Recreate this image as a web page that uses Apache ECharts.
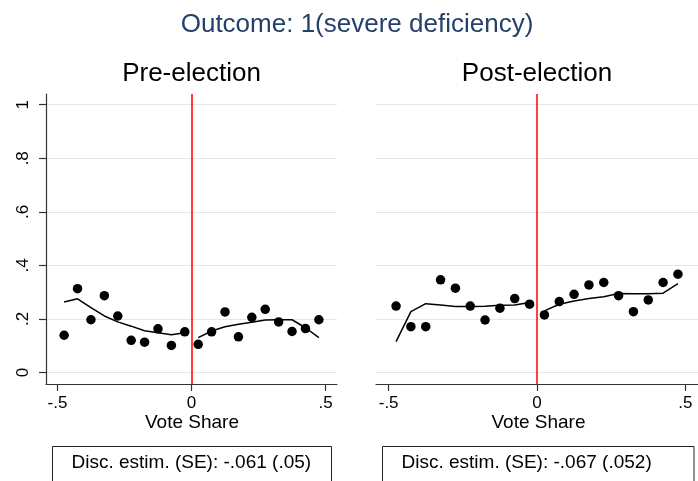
<!DOCTYPE html>
<html><head><meta charset="utf-8">
<script src="https://cdn.jsdelivr.net/npm/echarts@6/dist/echarts.min.js"></script>
<style>html,body{margin:0;padding:0;background:#fff}#c{width:698px;height:481px}</style>
</head><body><div id="c"></div>
<script>
// ---- data ----
const mainTitle = 'Outcome: 1(severe deficiency)';
const panelTitles = ['Pre-election', 'Post-election'];
const xAxisTitle = 'Vote Share';
const discNotes = ['Disc. estim. (SE): -.061 (.05)', 'Disc. estim. (SE): -.067 (.052)'];

const binCenters = [-0.475, -0.425, -0.375, -0.325, -0.275, -0.225, -0.175, -0.125, -0.075, -0.025,
                    0.025, 0.075, 0.125, 0.175, 0.225, 0.275, 0.325, 0.375, 0.425, 0.475];

const preMeans = [0.139, 0.313, 0.197, 0.287, 0.211, 0.120, 0.113, 0.163, 0.101, 0.152,
                  0.105, 0.152, 0.226, 0.133, 0.206, 0.236, 0.189, 0.153, 0.164, 0.197];
const preFitLeft  = [0.263, 0.275, 0.242, 0.211, 0.189, 0.173, 0.156, 0.148, 0.141, 0.148];
const preFitRight = [0.130, 0.155, 0.171, 0.180, 0.188, 0.196, 0.197, 0.197, 0.167, 0.130];

const postMeans = [0.248, 0.171, 0.171, 0.346, 0.315, 0.248, 0.196, 0.240, 0.276, 0.255,
                   0.215, 0.265, 0.292, 0.327, 0.336, 0.287, 0.227, 0.271, 0.336, 0.367];
const postFitLeft  = [0.115, 0.227, 0.257, 0.252, 0.246, 0.246, 0.247, 0.251, 0.252, 0.261];
const postFitRight = [0.230, 0.255, 0.267, 0.276, 0.283, 0.295, 0.294, 0.294, 0.296, 0.332];

const xTicks = [-0.5, 0, 0.5];
const xTickLabels = ['-.5', '0', '.5'];
const yTicks = [0, 0.2, 0.4, 0.6, 0.8, 1];
const yTickLabels = ['0', '.2', '.4', '.6', '.8', '1'];
const cutoff = 0;

// ---- build ----
const FONT = 'Liberation Sans, Arial, Helvetica, sans-serif';
const AX = '#333';
function lab(ticks, labels) {
  return v => { const i = ticks.findIndex(t => Math.abs(t - v) < 1e-9); return i >= 0 ? labels[i] : ''; };
}
function pairs(xs, ys) { return ys.map((y, i) => [xs[i], y]); }
const leftX = binCenters.slice(0, 10), rightX = binCenters.slice(10);

function xAxisCfg(g) {
  return {
    type: 'value', gridIndex: g, min: -0.5426, max: 0.5426,
    axisLine: { show: true, onZero: false, lineStyle: { color: AX, width: 1.2 } },
    axisTick: { show: true, length: 7, customValues: xTicks, lineStyle: { color: AX, width: 1.2 } },
    axisLabel: { customValues: xTicks, formatter: lab(xTicks, xTickLabels), color: '#000', fontSize: 17, fontFamily: FONT, margin: 11 },
    splitLine: { show: false }
  };
}
function yAxisCfg(g, visible) {
  return {
    type: 'value', gridIndex: g, min: -0.043, max: 1.04,
    axisLine: { show: visible, onZero: false, lineStyle: { color: AX, width: 1.2 } },
    axisTick: { show: visible, length: 7, customValues: yTicks, lineStyle: { color: AX, width: 1.2 } },
    axisLabel: { show: visible, customValues: yTicks, formatter: lab(yTicks, yTickLabels), rotate: 90, color: '#000', fontSize: 17, fontFamily: FONT, margin: 14 },
    splitLine: { show: true, lineStyle: { color: '#e6e6e6', width: 1.2 } }
  };
}
function panelSeries(g, means, fitL, fitR) {
  return [
    { type: 'line', xAxisIndex: g, yAxisIndex: g, data: pairs(leftX, fitL), showSymbol: false, symbol: 'none',
      lineStyle: { color: '#000', width: 1.5 }, z: 3 },
    { type: 'line', xAxisIndex: g, yAxisIndex: g, data: pairs(rightX, fitR), showSymbol: false, symbol: 'none',
      lineStyle: { color: '#000', width: 1.5 }, z: 3 },
    { type: 'scatter', xAxisIndex: g, yAxisIndex: g, data: pairs(binCenters, means), symbol: 'circle', symbolSize: 9.5,
      itemStyle: { color: '#000', opacity: 1 }, z: 4,
      markLine: { silent: true, symbol: ['none', 'none'], label: { show: false },
        lineStyle: { color: '#ff0000', type: 'solid', width: 1.5, opacity: 1 }, data: [{ xAxis: cutoff }] } }
  ];
}

const chart = echarts.init(document.getElementById('c'), null, { renderer: 'canvas' });
chart.setOption({
  animation: false,
  backgroundColor: '#fff',
  grid: [
    { left: 46, top: 94, width: 291, height: 290 },
    { left: 376, top: 94, width: 326, height: 290 }
  ],
  xAxis: [xAxisCfg(0), xAxisCfg(1)],
  yAxis: [yAxisCfg(0, true), yAxisCfg(1, false)],
  series: [].concat(panelSeries(0, preMeans, preFitLeft, preFitRight),
                    panelSeries(1, postMeans, postFitLeft, postFitRight)),
  graphic: [
    { type: 'text', x: 357, y: 25, style: { text: mainTitle, font: '26px ' + FONT, fill: '#27406b', textAlign: 'center', textVerticalAlign: 'middle' } },
    { type: 'text', x: 191.5, y: 74, style: { text: panelTitles[0], font: '26px ' + FONT, fill: '#000', textAlign: 'center', textVerticalAlign: 'middle' } },
    { type: 'text', x: 537, y: 74, style: { text: panelTitles[1], font: '26px ' + FONT, fill: '#000', textAlign: 'center', textVerticalAlign: 'middle' } },
    { type: 'text', x: 192, y: 423, style: { text: xAxisTitle, font: '19px ' + FONT, fill: '#000', textAlign: 'center', textVerticalAlign: 'middle' } },
    { type: 'text', x: 538.5, y: 423, style: { text: xAxisTitle, font: '19px ' + FONT, fill: '#000', textAlign: 'center', textVerticalAlign: 'middle' } },
    { type: 'rect', shape: { x: 52.5, y: 446.5, width: 279, height: 60 }, style: { fill: 'none', stroke: '#222', lineWidth: 1 } },
    { type: 'rect', shape: { x: 382.5, y: 446.5, width: 311.5, height: 60 }, style: { fill: 'none', stroke: '#222', lineWidth: 1 } },
    { type: 'text', x: 71.5, y: 463, style: { text: discNotes[0], font: '19px ' + FONT, fill: '#000', textAlign: 'left', textVerticalAlign: 'middle' } },
    { type: 'text', x: 401.5, y: 463, style: { text: discNotes[1], font: '19px ' + FONT, fill: '#000', textAlign: 'left', textVerticalAlign: 'middle' } }
  ]
});
</script>
</body></html>
